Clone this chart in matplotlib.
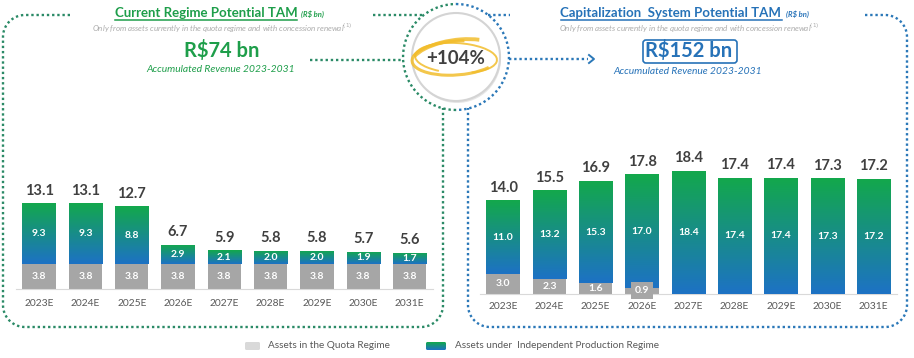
import numpy as np
import matplotlib
matplotlib.use('Agg')
import matplotlib.pyplot as plt
from matplotlib.colors import LinearSegmentedColormap
from matplotlib.patches import Circle, Arc, FancyBboxPatch

plt.rcParams['font.family'] = ['Lato', 'DejaVu Sans']

years = ['2023E', '2024E', '2025E', '2026E', '2027E', '2028E', '2029E', '2030E', '2031E']

# current regime (R$ bn)
quota_current = [3.8, 3.8, 3.8, 3.8, 3.8, 3.8, 3.8, 3.8, 3.8]
ipr_current = [9.3, 9.3, 8.8, 2.9, 2.1, 2.0, 2.0, 1.9, 1.7]
total_current = [13.1, 13.1, 12.7, 6.7, 5.9, 5.8, 5.8, 5.7, 5.6]

# capitalization system (R$ bn)
quota_cap = [3.0, 2.3, 1.6, 0.9, 0, 0, 0, 0, 0]
ipr_cap = [11.0, 13.2, 15.3, 17.0, 18.4, 17.4, 17.4, 17.3, 17.2]
total_cap = [14.0, 15.5, 16.9, 17.8, 18.4, 17.4, 17.4, 17.3, 17.2]

GREEN = '#1e9e4a'
BLUE = '#2672b8'
GRAY_BAR = '#a6a6a6'
DOT_GREEN = '#2a8a66'
DOT_BLUE = '#2b78b8'
TXT = '#404040'
grad = LinearSegmentedColormap.from_list('ipr', ['#1d72c4', '#13a84c'])
DOTS = (0, (1, 1.2))

W, H = 914, 358
fig = plt.figure(figsize=(W / 100, H / 100), dpi=100)
bg = fig.add_axes([0, 0, 1, 1])
bg.set_xlim(0, W)
bg.set_ylim(H, 0)
bg.axis('off')


def arc_pts(cx, cy, r, a0, a1):
    a = np.radians(np.linspace(a0, a1, 30))
    return cx + r * np.cos(a), cy + r * np.sin(a)


def dotted(xs, ys, color):
    bg.plot(xs, ys, color=color, lw=1.7, ls=DOTS)


def panel_path(pieces):
    xs, ys = [], []
    for p in pieces:
        xs.extend(p[0])
        ys.extend(p[1])
    return np.array(xs), np.array(ys)


# left panel border
lx, ly = panel_path([([70], [15]),
                     arc_pts(25, 37, 22, -90, -180),
                     arc_pts(25, 305, 22, 180, 90),
                     arc_pts(421, 305, 22, 90, 0),
                     ([443], [108])])
dotted(lx, ly, DOT_GREEN)
dotted([373, 424], [15, 15], DOT_GREEN)
dotted([310, 403], [60, 60], DOT_GREEN)

# right panel border
dotted([488, 510], [15, 15], DOT_BLUE)
rx, ry = panel_path([([865], [15]),
                     arc_pts(885, 37, 22, -90, 0),
                     arc_pts(885, 305, 22, 0, 90),
                     arc_pts(490, 305, 22, 90, 180),
                     ([468], [108])])
dotted(rx, ry, DOT_BLUE)
dotted([509, 588], [59, 59], DOT_BLUE)
bg.plot([589, 594, 589], [55, 59, 63], color=DOT_BLUE, lw=1.4)

# centre badge
cx, cy = 456, 57
ax_, ay_ = arc_pts(cx, cy, 53, 90, 270)
dotted(ax_, ay_, DOT_GREEN)
ax_, ay_ = arc_pts(cx, cy, 53, -90, 90)
dotted(ax_, ay_, DOT_BLUE)
bg.add_patch(Circle((cx + 1, cy + 2), 44, fc='#e6e6e6', ec='none'))
bg.add_patch(Circle((cx, cy), 44, fc='white', ec='#d4d4d4', lw=1.5))
for w, h, ang, t1, t2, lw in [(88, 34, -4, 20, 300, 2.2), (82, 30, 3, 140, 400, 1.4),
                              (90, 36, -8, 190, 330, 2.8)]:
    bg.add_patch(Arc((cx, cy + 1), w, h, angle=ang, theta1=t1, theta2=t2,
                     color='#f2bd2c', lw=lw, alpha=0.85))
bg.text(cx, cy + 2, '+104%', ha='center', va='center', fontsize=13.5,
        fontweight='bold', color=TXT)

# headers
t1 = bg.text(206, 13, 'Current Regime Potential TAM', ha='center', va='center',
             fontsize=9.5, fontweight='bold', color=GREEN)
t2 = bg.text(671, 13, 'Capitalization  System Potential TAM', ha='center', va='center',
             fontsize=9.5, fontweight='bold', color=BLUE)
sub = 'Only from assets currently in the quota regime and with concession renewal$^{(1)}$'
bg.text(222, 28, sub, ha='center', va='center', fontsize=5.8, style='italic', color='#ababab')
bg.text(689, 28, sub, ha='center', va='center', fontsize=5.8, style='italic', color='#ababab')
bg.text(222, 51, 'R$74 bn', ha='center', va='center', fontsize=14.5,
        fontweight='bold', color=GREEN)
bg.text(689, 51, 'R$152 bn', ha='center', va='center', fontsize=14.5,
        fontweight='bold', color=BLUE)
bg.add_patch(FancyBboxPatch((643, 40), 94, 23, boxstyle='round,pad=0,rounding_size=3',
                            fc='none', ec=BLUE, lw=1.2))
bg.text(221, 70, 'Accumulated Revenue 2023-2031', ha='center', va='center', fontsize=7.4,
        style='italic', color=GREEN)
bg.text(688, 71, 'Accumulated Revenue 2023-2031', ha='center', va='center', fontsize=7.4,
        style='italic', color=BLUE)

fig.canvas.draw()
inv = bg.transData.inverted()
for t, col in [(t1, GREEN), (t2, BLUE)]:
    bb = t.get_window_extent()
    (x0, y0), (x1, _) = inv.transform([[bb.x0, bb.y0], [bb.x1, bb.y1]])
    bg.plot([x0, x1], [y0 + 1, y0 + 1], color=col, lw=1.1)
    bg.text(x1 + 4, 14, '(R$ bn)', ha='left', va='center', fontsize=5.5,
            style='italic', fontweight='bold', color=col)

# legend
bg.add_patch(FancyBboxPatch((245, 342), 15, 8, boxstyle='round,pad=0,rounding_size=1.5',
                            fc='#d9d9d9', ec='none'))
bg.text(268, 346, 'Assets in the Quota Regime', ha='left', va='center', fontsize=7.2,
        color='#595959')
leg_box = FancyBboxPatch((426, 342), 20, 8, boxstyle='round,pad=0,rounding_size=1.5',
                         fc='none', ec='none')
bg.add_patch(leg_box)
im = bg.imshow(np.linspace(0, 1, 32).reshape(-1, 1), extent=[426, 446, 350, 342],
               origin='lower', cmap=grad, aspect='auto')
im.set_clip_path(leg_box)
bg.set_xlim(0, W)
bg.set_ylim(H, 0)
bg.text(455, 346, 'Assets under  Independent Production Regime', ha='left', va='center',
        fontsize=7.2, color='#595959')


def draw_panel(left_px, base_px, px_unit, quota, ipr, totals, pad):
    slot = 46.3
    ax = fig.add_axes([left_px / W, (H - base_px) / H, 9 * slot / W, 20 * px_unit / H])
    ax.patch.set_alpha(0)
    x = np.arange(len(years))
    ax.bar(x, quota, 0.72, color=GRAY_BAR, zorder=2)
    bars = ax.bar(x, ipr, 0.72, bottom=quota, color='#1a8c88', zorder=2)
    for b in bars:
        x0, y0, w, h = b.get_x(), b.get_y(), b.get_width(), b.get_height()
        g = ax.imshow(np.linspace(0, 1, 64).reshape(-1, 1), extent=[x0, x0 + w, y0, y0 + h],
                      origin='lower', cmap=grad, aspect='auto', zorder=3)
        g.set_clip_path(b)
    for xi, q, v, tot in zip(x, quota, ipr, totals):
        if q > 0:
            box = dict(boxstyle='square,pad=0.35', fc=GRAY_BAR, ec='none') if q < 1 else None
            ax.text(xi, q / 2 if q >= 1 else q * 0.6, f'{q:.1f}', ha='center', va='center',
                    fontsize=7.5, fontweight='bold', color='white', zorder=5, bbox=box)
        ax.text(xi, q + v / 2, f'{v:.1f}', ha='center', va='center', fontsize=7.5,
                fontweight='bold', color='white', zorder=5)
        ax.annotate(f'{tot:.1f}', (xi, q + v), xytext=(0, 4), textcoords='offset points',
                    ha='center', va='bottom', fontsize=10.5, fontweight='bold', color=TXT)
    ax.set_xlim(-0.5, 8.5)
    ax.set_ylim(0, 20)
    ax.set_yticks([])
    ax.set_xticks(x, years)
    ax.tick_params(axis='x', length=0, labelsize=7.4, labelcolor='#595959', pad=pad)
    for s in ['top', 'left', 'right']:
        ax.spines[s].set_visible(False)
    ax.spines['bottom'].set_color('#d9d9d9')
    ax.spines['bottom'].set_linewidth(0.8)


draw_panel(16, 289, 6.56, quota_current, ipr_current, total_current, 7.5)
draw_panel(480, 294, 6.69, quota_cap, ipr_cap, total_cap, 6)

fig.savefig('out.png', dpi=100)
